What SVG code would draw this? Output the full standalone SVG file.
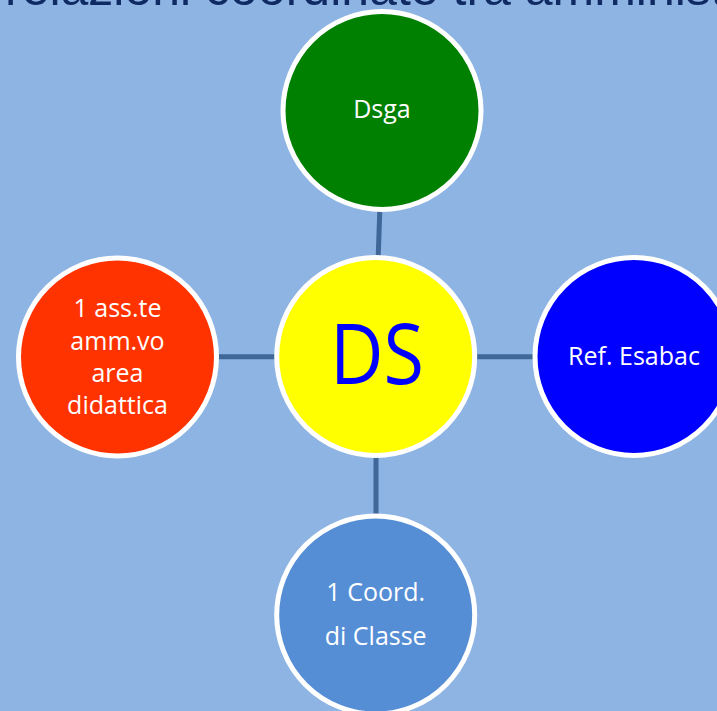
<svg xmlns="http://www.w3.org/2000/svg" width="717" height="711" viewBox="0 0 717 711">
<style>
.node{stroke:#FFFFFF;stroke-width:5}
.lbl{font-family:"Open Sans","Liberation Sans",sans-serif;font-size:25px;fill:#FFFFFF;text-anchor:middle}
.conn{stroke:#3F6898;stroke-width:5;fill:none}
</style>
<rect x="0" y="0" width="717" height="711" fill="#8EB4E3"/>
<text x="5" y="5" font-family="'Liberation Sans',Arial,sans-serif" font-size="50" fill="#102A63">relazioni coordinate tra amministr</text>
<g id="connectors">
<line class="conn" x1="380" y1="205" x2="378" y2="262"/>
<line class="conn" x1="212" y1="356.7" x2="283" y2="356.7"/>
<line class="conn" x1="469" y1="356.7" x2="540" y2="356.7"/>
<line class="conn" x1="376" y1="451" x2="376" y2="520"/>
</g>
<g id="node-dsga">
<circle class="node" cx="382" cy="110.5" r="99" fill="#008000"/>
<text class="lbl" x="382" y="118">Dsga</text>
</g>
<g id="node-ds">
<circle class="node" cx="375.7" cy="356.5" r="99" fill="#FFFF00"/>
<text x="330" y="384" font-family="'Open Sans','Liberation Sans',sans-serif" font-size="85" fill="#0000FF" textLength="94" lengthAdjust="spacingAndGlyphs">DS</text>
</g>
<g id="node-assistente">
<circle class="node" cx="117.5" cy="357" r="99" fill="#FF3300"/>
<text class="lbl" x="117.5" y="316.7">1 ass.te</text>
<text class="lbl" x="117.5" y="350">amm.vo</text>
<text class="lbl" x="117.5" y="381.7">area</text>
<text class="lbl" x="117.5" y="414">didattica</text>
</g>
<g id="node-esabac">
<circle class="node" cx="634" cy="356.5" r="99" fill="#0000FF"/>
<text class="lbl" x="634" y="365">Ref. Esabac</text>
</g>
<g id="node-coord">
<circle class="node" cx="375.7" cy="615" r="99" fill="#558ED5"/>
<text class="lbl" x="375.7" y="601">1 Coord.</text>
<text class="lbl" x="375.7" y="645">di Classe</text>
</g>
</svg>
